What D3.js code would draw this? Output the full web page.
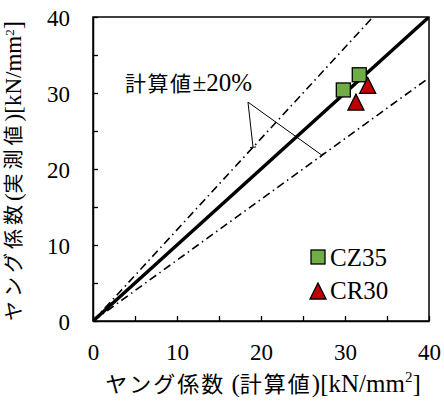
<!DOCTYPE html>
<html>
<head>
<meta charset="utf-8">
<script src="https://cdn.jsdelivr.net/npm/d3@7"></script>
<style>
  html, body { margin: 0; padding: 0; background: #fff; }
  svg text { fill: #000; }
</style>
</head>
<body>
<svg id="chart" width="444" height="401"></svg>
<script>
// Young's modulus: calculated (x) vs measured (y), kN/mm2
const seriesNames = ["CZ35", "CR30"];
const cz35Calc = [29.8, 31.7];
const cz35Meas = [30.4, 32.4];
const cr30Calc = [31.3, 32.7];
const cr30Meas = [28.8, 31.0];
const tickValues = [0, 10, 20, 30, 40];
const minorTicks = [5, 15, 25, 35];
const bandRatios = [1.2, 0.8];          // ±20% guide lines
const bandLabel = "計算値±20%";
const xTitle = "ヤング係数 (計算値)[kN/mm";
const yTitle = "ヤング係数(実測値)[kN/mm";

const SERIF = "'Liberation Serif', 'Times New Roman', serif";
const CJK = "'Noto Sans CJK JP', sans-serif";

const svg = d3.select("#chart");
const mLeft = 93, mRight = 429, mTop = 17, mBottom = 321;

const x = d3.scaleLinear().domain([0, 40]).range([mLeft, mRight]);
const y = d3.scaleLinear().domain([0, 40]).range([mBottom, mTop]);

// split a string into Japanese / Latin runs, each with its own font
function richText(textSel, str, opt) {
  const re = /[\u3040-\u30ff\u3400-\u9fff]+|[^\u3040-\u30ff\u3400-\u9fff]+/g;
  (str.match(re) || []).forEach(run => {
    const isCJK = /[\u3040-\u30ff\u3400-\u9fff]/.test(run);
    textSel.append("tspan")
      .attr("font-family", isCJK ? CJK : SERIF)
      .attr("font-size", isCJK ? opt.cjkSize : opt.latinSize)
      .attr("letter-spacing", isCJK ? opt.cjkSpacing : 0)
      .text(run);
  });
  return textSel;
}

const plot = svg.append("g");
plot.append("clipPath").attr("id", "clip")
  .append("rect").attr("x", mLeft).attr("y", mTop)
  .attr("width", mRight - mLeft).attr("height", mBottom - mTop);

// ±20% dash-dot guide lines
const lines = plot.append("g").attr("clip-path", "url(#clip)");
bandRatios.forEach(r => {
  const xEnd = Math.min(40, 40 / r);
  lines.append("line")
    .attr("x1", x(0)).attr("y1", y(0))
    .attr("x2", x(xEnd)).attr("y2", y(xEnd * r))
    .attr("stroke", "#000").attr("stroke-width", 1.6)
    .attr("stroke-dasharray", "8,4,1.5,4");
});
// 1:1 line
lines.append("line")
  .attr("x1", x(0)).attr("y1", y(0))
  .attr("x2", x(40)).attr("y2", y(40))
  .attr("stroke", "#000").attr("stroke-width", 3.5);

// frame
plot.append("rect").attr("x", mLeft).attr("y", mTop)
  .attr("width", mRight - mLeft).attr("height", mBottom - mTop)
  .attr("fill", "none").attr("stroke", "#000").attr("stroke-width", 1.5);

// axes with inward ticks
const allTicks = tickValues.concat(minorTicks);
const xAxis = d3.axisBottom(x).tickValues(allTicks).tickSizeInner(-5).tickSizeOuter(0)
  .tickFormat(d => tickValues.includes(d) ? d : "");
const yAxis = d3.axisLeft(y).tickValues(allTicks).tickSizeInner(-5).tickSizeOuter(0)
  .tickFormat(d => tickValues.includes(d) ? d : "");

const gx = svg.append("g").attr("transform", `translate(0,${mBottom})`).call(xAxis);
const gy = svg.append("g").attr("transform", `translate(${mLeft},0)`).call(yAxis);
[gx, gy].forEach(g => {
  g.select(".domain").attr("stroke", "#000").attr("stroke-width", 1.5);
  g.selectAll(".tick line").attr("stroke", "#000").attr("stroke-width", 1.3);
  g.selectAll(".tick text").attr("font-size", 23)
    .attr("font-family", SERIF).attr("fill", "#000");
});
gx.selectAll(".tick text").attr("y", 39).attr("dy", 0);
gy.selectAll(".tick text").attr("x", -23).attr("dy", "0.35em");

// annotation with leader lines to the guide lines
const annoFrom = [18.45, 28.8];
const annoTo = [19.05, 27.26];
const leader = svg.append("g");
annoTo.forEach((xv, i) => {
  const px = x(xv), py = y(xv * bandRatios[i]);
  leader.append("line")
    .attr("x1", x(annoFrom[0])).attr("y1", y(annoFrom[1]))
    .attr("x2", px).attr("y2", py)
    .attr("stroke", "#000").attr("stroke-width", 1);
  const dx = px - x(annoFrom[0]), dy = py - y(annoFrom[1]);
  const len = Math.hypot(dx, dy), nx = -dy / len * 3, ny = dx / len * 3;
  leader.append("line")
    .attr("x1", px - nx).attr("y1", py - ny)
    .attr("x2", px + nx).attr("y2", py + ny)
    .attr("stroke", "#000").attr("stroke-width", 1);
});
richText(svg.append("text").attr("x", 125).attr("y", 91), bandLabel,
  { cjkSize: 21, latinSize: 25, cjkSpacing: 1.5 });

// markers
const sq = 14, tri = 16;
const triPath = (cx, cy) =>
  `M${cx},${cy - tri / 2}L${cx + tri / 2},${cy + tri / 2}L${cx - tri / 2},${cy + tri / 2}Z`;

svg.append("g").selectAll("rect").data(d3.zip(cz35Calc, cz35Meas)).join("rect")
  .attr("x", d => x(d[0]) - sq / 2).attr("y", d => y(d[1]) - sq / 2)
  .attr("width", sq).attr("height", sq)
  .attr("fill", "#70AD47").attr("stroke", "#000").attr("stroke-width", 1.3);

svg.append("g").selectAll("path").data(d3.zip(cr30Calc, cr30Meas)).join("path")
  .attr("d", d => triPath(x(d[0]), y(d[1])))
  .attr("fill", "#C00000").attr("stroke", "#000").attr("stroke-width", 1.3);

// legend
const lg = svg.append("g");
lg.append("rect").attr("x", 318 - sq / 2).attr("y", 257 - sq / 2)
  .attr("width", sq).attr("height", sq)
  .attr("fill", "#70AD47").attr("stroke", "#000").attr("stroke-width", 1.3);
lg.append("text").attr("x", 330).attr("y", 266).attr("font-size", 25)
  .attr("font-family", SERIF).text(seriesNames[0]);
lg.append("path").attr("d", triPath(318, 291))
  .attr("fill", "#C00000").attr("stroke", "#000").attr("stroke-width", 1.3);
lg.append("text").attr("x", 330).attr("y", 299).attr("font-size", 25)
  .attr("font-family", SERIF).text(seriesNames[1]);

// axis titles
function addSup(t, size, shift) {
  t.append("tspan").attr("font-family", SERIF).attr("font-size", size).attr("dy", -shift).text("2");
  t.append("tspan").attr("font-family", SERIF).attr("font-size", 25).attr("dy", shift).text("]");
}
const xt = svg.append("text").attr("x", (mLeft + mRight) / 2 + 2).attr("y", 392)
  .attr("text-anchor", "middle");
richText(xt, xTitle, { cjkSize: 22, latinSize: 25, cjkSpacing: 2 });
addSup(xt, 15, 10);

const yt = svg.append("text")
  .attr("transform", `translate(21,${(mTop + mBottom) / 2 + 2}) rotate(-90)`)
  .attr("text-anchor", "middle");
richText(yt, yTitle, { cjkSize: 20, latinSize: 23, cjkSpacing: 4 });
addSup(yt, 13, 7);
</script>
</body>
</html>
